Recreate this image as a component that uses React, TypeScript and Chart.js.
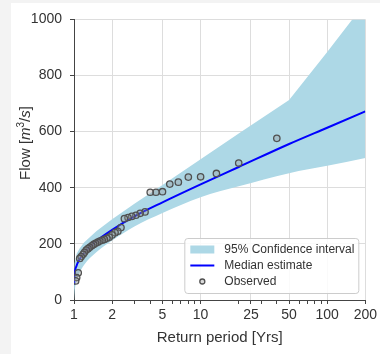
import React, { useEffect, useRef } from "react";
import { Chart, registerables } from "chart.js";

Chart.register(...registerables);

// Fitted curve and 95% confidence band, read at these return periods (years)
const returnPeriods = [1.001, 1.01, 1.05, 1.1, 1.2, 1.5, 2, 3, 5, 10, 20, 50, 100, 200];
const medianFlow = [55, 88, 123, 143, 168, 210, 250, 298, 348, 412, 474, 556, 614, 672];
const lowerFlow = [0, 25, 70, 95, 125, 170, 212, 262, 310, 366, 405, 452, 478, 506];
const upperFlow = [100, 130, 165, 182, 205, 245, 288, 343, 410, 502, 593, 713, 884, 1060];

// Observed annual maxima and their plotting-position return periods
const observedT = [
  40, 20, 13.33, 10, 8, 6.67, 5.71, 5, 4.44, 4, 3.64, 3.33, 3.08, 2.86, 2.67, 2.5, 2.35, 2.22,
  2.11, 2, 1.9, 1.82, 1.74, 1.67, 1.6, 1.54, 1.48, 1.43, 1.38, 1.33, 1.29, 1.25, 1.21, 1.18,
  1.14, 1.11, 1.08, 1.05, 1.03,
];
const observedFlow = [
  576, 488, 451, 439, 438, 420, 413, 386, 384, 384, 314, 309, 302, 298, 294, 290, 258, 245,
  240, 232, 224, 220, 216, 213, 210, 206, 202, 198, 193, 188, 183, 178, 170, 163,
  155, 148, 97, 80, 68,
];

const xMajorTicks = [1, 2, 5, 10, 25, 50, 100, 200];
const xMinorTicks = [3, 4, 6, 7, 8, 9, 20, 30, 40, 60, 70, 80, 90];
const yTicks = [0, 200, 400, 600, 800, 1000];

const legendLabels = ["95% Confidence interval", "Median estimate", "Observed"];
const xTitle = "Return period [Yrs]";

const FONT = "'Liberation Sans', Arial, Helvetica, sans-serif";
const TEXT = "#333333";
const GRID = "#dddddd";
const AXIS = "#444444";
const BAND = "#add8e6";
const LINE = "#0000ff";
const MARK = "#505050";
const MARK_FILL = "rgba(150,150,150,0.35)";

const yTitlePlugin = {
  id: "yTitleRich",
  afterDraw(chart: any) {
    const ctx = chart.ctx as CanvasRenderingContext2D;
    const parts = [
      { t: "Flow [", f: `15px ${FONT}`, dy: 0 },
      { t: "m", f: `italic 15px ${FONT}`, dy: 0 },
      { t: "3", f: `10px ${FONT}`, dy: -6 },
      { t: "/", f: `15px ${FONT}`, dy: 0 },
      { t: "s", f: `italic 15px ${FONT}`, dy: 0 },
      { t: "]", f: `15px ${FONT}`, dy: 0 },
    ];
    ctx.save();
    let total = 0;
    const widths = parts.map((p) => {
      ctx.font = p.f;
      const w = ctx.measureText(p.t).width;
      total += w;
      return w;
    });
    ctx.translate(19, 140);
    ctx.rotate(-Math.PI / 2);
    ctx.fillStyle = TEXT;
    ctx.textBaseline = "alphabetic";
    ctx.textAlign = "left";
    let x = -total / 2;
    parts.forEach((p, i) => {
      ctx.font = p.f;
      ctx.fillText(p.t, x, p.dy);
      x += widths[i];
    });
    ctx.restore();
  },
};

const boxLegendPlugin = {
  id: "boxLegend",
  afterDraw(chart: any) {
    const ctx = chart.ctx as CanvasRenderingContext2D;
    const ca = chart.chartArea;
    const w = 174;
    const h = 55;
    const x0 = ca.right - 7 - w;
    const y0 = ca.bottom - 7 - h;
    ctx.save();
    ctx.beginPath();
    (ctx as any).roundRect(x0 + 0.5, y0 + 0.5, w, h, 3);
    ctx.fillStyle = "rgba(255,255,255,0.85)";
    ctx.fill();
    ctx.strokeStyle = "#cccccc";
    ctx.lineWidth = 1;
    ctx.stroke();

    const rows = [y0 + 11.5, y0 + 27.5, y0 + 43.5];
    ctx.fillStyle = BAND;
    ctx.fillRect(x0 + 6, rows[0] - 4, 24, 8);
    ctx.strokeStyle = LINE;
    ctx.lineWidth = 2;
    ctx.beginPath();
    ctx.moveTo(x0 + 6, rows[1]);
    ctx.lineTo(x0 + 30, rows[1]);
    ctx.stroke();
    ctx.beginPath();
    ctx.arc(x0 + 18, rows[2], 2.5, 0, Math.PI * 2);
    ctx.fillStyle = MARK_FILL;
    ctx.fill();
    ctx.strokeStyle = MARK;
    ctx.lineWidth = 1.3;
    ctx.stroke();

    ctx.fillStyle = TEXT;
    ctx.font = `12px ${FONT}`;
    ctx.textBaseline = "middle";
    ctx.textAlign = "left";
    legendLabels.forEach((lab, i) => ctx.fillText(lab, x0 + 40, rows[i] + 0.5));
    ctx.restore();
  },
};

export default function App() {
  const canvasRef = useRef<HTMLCanvasElement | null>(null);

  useEffect(() => {
    if (!canvasRef.current) return;
    Chart.defaults.font.family = FONT;
    const allXTicks = [...xMajorTicks, ...xMinorTicks].sort((a, b) => a - b);
    const pts = (xs: number[], ys: number[]) => xs.map((t, i) => ({ x: t, y: ys[i] }));

    const chart = new Chart(canvasRef.current, {
      type: "line",
      data: {
        datasets: [
          {
            label: "lower",
            data: pts(returnPeriods, lowerFlow),
            borderColor: "rgba(0,0,0,0)",
            borderWidth: 0,
            pointRadius: 0,
            fill: false,
            order: 4,
            cubicInterpolationMode: "monotone",
          },
          {
            label: legendLabels[0],
            data: pts(returnPeriods, upperFlow),
            borderColor: "rgba(0,0,0,0)",
            borderWidth: 0,
            backgroundColor: BAND,
            pointRadius: 0,
            fill: "-1",
            order: 3,
            tension: 0,
          },
          {
            label: legendLabels[1],
            data: pts(returnPeriods, medianFlow),
            borderColor: LINE,
            borderWidth: 2,
            pointRadius: 0,
            fill: false,
            order: 2,
            cubicInterpolationMode: "monotone",
          },
          {
            label: legendLabels[2],
            data: pts(observedT, observedFlow),
            showLine: false,
            pointRadius: 3.2,
            pointBorderWidth: 1.3,
            pointBorderColor: MARK,
            pointBackgroundColor: MARK_FILL,
            borderColor: MARK,
            fill: false,
            order: 1,
          },
        ],
      } as any,
      options: {
        responsive: false,
        animation: false,
        events: [],
        layout: { padding: { top: 13.5, right: 10, left: 0, bottom: 0 } },
        plugins: { legend: { display: false }, tooltip: { enabled: false } },
        scales: {
          x: {
            type: "logarithmic",
            min: 1,
            max: 200,
            afterBuildTicks: (scale: any) => {
              scale.ticks = allXTicks.map((v) => ({ value: v }));
            },
            afterFit: (scale: any) => {
              scale.height = 54;
            },
            ticks: {
              autoSkip: false,
              maxRotation: 0,
              minRotation: 0,
              padding: 3,
              color: TEXT,
              font: { size: 14 },
              callback: (value: any) => (xMajorTicks.includes(Number(value)) ? String(value) : ""),
            },
            grid: {
              color: (c: any) =>
                c.tick && xMajorTicks.includes(c.tick.value) ? GRID : "rgba(0,0,0,0)",
              tickColor: AXIS,
              tickLength: 4,
            },
            border: { color: AXIS, width: 1 },
            title: {
              display: true,
              text: xTitle,
              color: TEXT,
              font: { size: 15 },
              padding: { top: 4, bottom: 7 },
            },
          },
          y: {
            type: "linear",
            min: 0,
            max: 1000,
            afterBuildTicks: (scale: any) => {
              scale.ticks = yTicks.map((v) => ({ value: v }));
            },
            afterFit: (scale: any) => {
              scale.width = 63;
            },
            ticks: {
              padding: 8,
              color: TEXT,
              font: { size: 14 },
              callback: (value: any) => String(value),
            },
            grid: { color: GRID, tickColor: AXIS, tickLength: 4 },
            border: { color: AXIS, width: 1 },
          },
        },
      } as any,
      plugins: [boxLegendPlugin, yTitlePlugin],
    });
    return () => chart.destroy();
  }, []);

  return (
    <div
      style={{
        position: "absolute",
        left: 0,
        top: 0,
        width: 380,
        height: 354,
        background: "#f3f3f3",
        overflow: "hidden",
      }}
    >
      <div
        style={{ position: "absolute", left: 11, top: 3, width: 369, height: 351, background: "#ffffff" }}
      >
        <canvas ref={canvasRef} width={369} height={351} style={{ display: "block" }} />
      </div>
    </div>
  );
}
